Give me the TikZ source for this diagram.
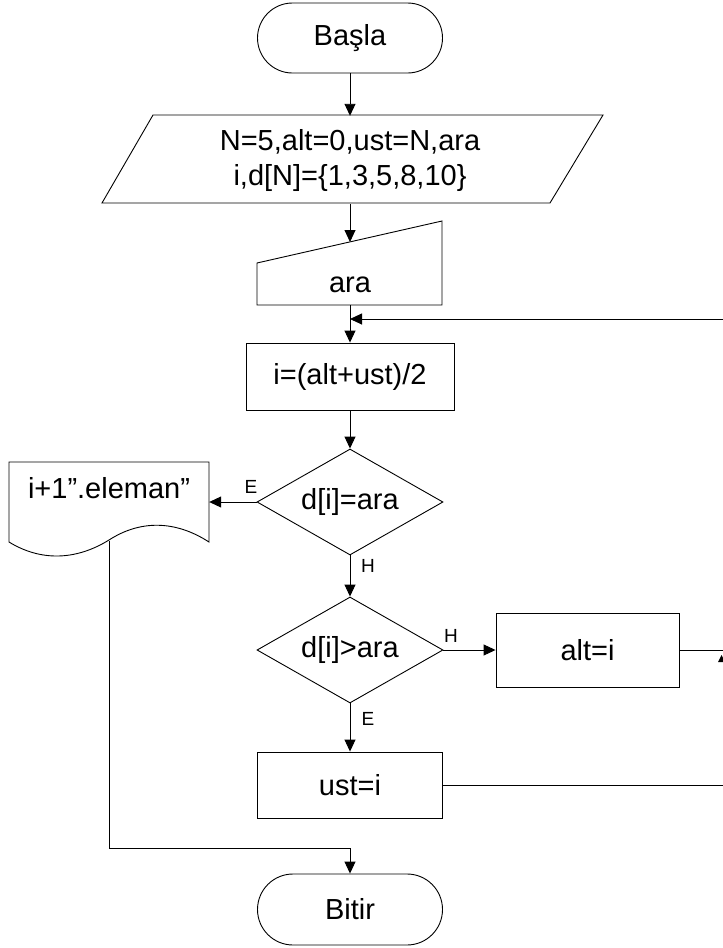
\documentclass[tikz,border=0pt]{standalone}
\usepackage{fontspec}
\setmainfont{Liberation Sans}
\usetikzlibrary{arrows.meta,shapes.geometric,shapes.misc}
\begin{document}
\begin{tikzpicture}[x=1pt,y=-1pt,
  txt/.style={font=\fontsize{29}{35}\selectfont, inner sep=0pt, align=center},
  lbl/.style={font=\fontsize{19}{21}\selectfont, inner sep=0pt},
  box/.style={txt, draw, line width=0.9pt},
  term/.style={txt, draw, line width=0.9pt, rounded rectangle, rounded rectangle arc length=180},
  dec/.style={txt, draw, line width=0.9pt, diamond, aspect=1.75},
  shp/.style={draw, line width=0.9pt, line join=miter},
  conn/.style={draw, line width=0.9pt},
  arr/.style={conn, -{Triangle[length=12pt,width=11pt]}}
]
\useasboundingbox (0,0) rectangle (723,948);
\fill[white] (0,0) rectangle (723,948);

% start
\node[term, minimum width=185pt, minimum height=70pt] (start) at (350,38) {Başla};

% input parallelogram
\node[txt, minimum width=400pt, minimum height=88pt] (io) at (350,160) {N=5,alt=0,ust=N,ara\\i,d[N]=\{1,3,5,8,10\}};
\path[shp] (153,115) -- (603,115) -- (550,203) -- (102,203) -- cycle;

% manual input
\node[minimum width=185pt, minimum height=84pt, inner sep=0pt] (man) at (350,263) {};
\path[shp] (257,263) -- (442,221) -- (442,305) -- (257,305) -- cycle;
\node[txt] (mantxt) at (350,285) {ara};
\coordinate (manTop) at (350,242);

% calc box
\node[box, minimum width=208pt, minimum height=67pt] (calc) at (350,376.5) {i=(alt+ust)/2};

% decision 1
\node[dec, minimum width=186pt, minimum height=106pt] (d1) at (350,502) {d[i]=ara};

% document
\node[minimum width=200pt, minimum height=80pt, inner sep=0pt] (doc) at (109,502) {};
\path[shp] (9,462) -- (209,462) -- (209,542)
  .. controls (175,520) and (140,520) .. (109,540)
  .. controls (75,561) and (40,561) .. (9,542) -- cycle;
\node[txt] (doctxt) at (109,488) {i+1”.eleman”};
\coordinate (docB) at (109,541);

% decision 2
\node[dec, minimum width=186pt, minimum height=106pt] (d2) at (350,650) {d[i]>ara};

% alt box
\node[box, minimum width=183pt, minimum height=74pt] (alt) at (587.5,650) {alt=i};

% ust box
\node[box, minimum width=185pt, minimum height=66pt] (ust) at (350,785) {ust=i};

% end
\node[term, minimum width=185pt, minimum height=71pt] (stop) at (350,909.5) {Bitir};

% helper coordinates
\coordinate (merge) at (350,319);
\coordinate (r1) at (723,319);
\coordinate (r2) at (723,650);
\coordinate (r3) at (723,785);
\coordinate (bend1) at (109,848);
\coordinate (bend2) at (350,848);

% connectors
\draw[arr] (start.south) -- (io.north);
\draw[arr] (io.south) -- (manTop);
\draw[arr] (man.south) -- (calc.north);
\draw[arr] (r1) -- (merge);
\draw[arr] (calc.south) -- (d1.north);
\draw[arr] (d1.west) -- (doc.east);
\draw[arr] (d1.south) -- (d2.north);
\draw[arr] (d2.east) -- (alt.west);
\draw[arr] (d2.south) -- (ust.north);
\draw[conn] (alt.east) -- (r2);
\draw[conn] (ust.east) -- (r3);
\draw[conn] (docB) -- (bend1) -- (bend2);
\draw[arr] (bend2) -- (stop.north);

% labels
\node[lbl] (lE1) at (251,487) {E};
\node[lbl] (lH1) at (368,566) {H};
\node[lbl] (lH2) at (451,636) {H};
\node[lbl] (lE2) at (368,719) {E};

% clipped fragment at the right edge
\begin{scope}
\clip (0,0) rectangle (723,948);
\fill (718,662) -- (721.5,655) -- (725,662) -- cycle;
\end{scope}
\end{tikzpicture}
\end{document}
